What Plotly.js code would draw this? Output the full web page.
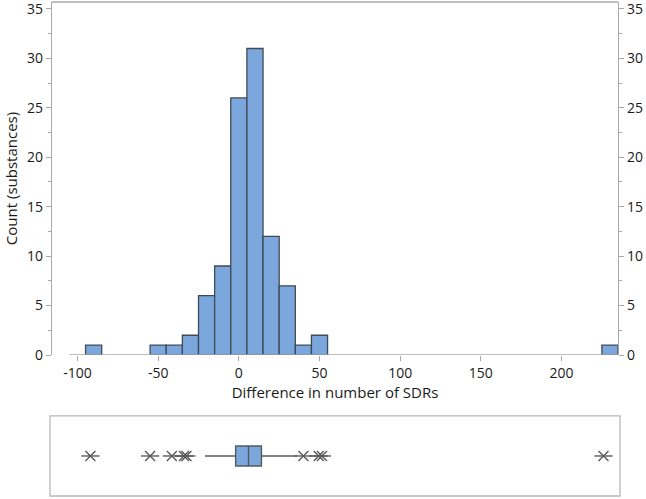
<!DOCTYPE html>
<html>
<head>
<meta charset="utf-8">
<script src="https://cdn.plot.ly/plotly-3.0.1.min.js"></script>
<style>
  html, body { margin: 0; padding: 0; background: #fff; }
  #chart { width: 646px; height: 499px; }
</style>
</head>
<body>
<div id="chart"></div>
<script>
// histogram bins (centre of each 10-wide bin) and counts
const binCenters = [-90, -50, -40, -30, -20, -10, 0, 10, 20, 30, 40, 50, 230];
const binCounts = [1, 1, 1, 2, 6, 9, 26, 31, 12, 7, 1, 2, 1];
const xTickVals = [-100, -50, 0, 50, 100, 150, 200];
const xTickText = ['-100', '-50', '0', '50', '100', '150', '200'];

// box plot summary
const boxQ1 = -2;
const boxMedian = 6;
const boxQ3 = 14;
const boxLow = -21;
const boxHigh = 36;
const outliers = [-92, -55, -41.5, -34, -32.5, 40, 49.5, 51.5, 226];

const barBlue = '#7ba7dc';
const edgeGray = '#3f4a55';
const frameGray = '#a8a8a8';
const starGray = '#5a5a5a';
const xRange = [-115.8, 235];

const bars = {
  type: 'bar',
  x: binCenters,
  y: binCounts,
  width: 10,
  marker: { color: barBlue, line: { color: edgeGray, width: 1.3 } },
  xaxis: 'x',
  yaxis: 'y',
  hoverinfo: 'x+y',
};

// invisible trace so the right-hand y axis gets drawn
const rightAxisDummy = {
  type: 'scatter',
  x: [0],
  y: [0],
  mode: 'markers',
  marker: { opacity: 0 },
  xaxis: 'x',
  yaxis: 'y3',
  hoverinfo: 'skip',
};

const box = {
  type: 'box',
  orientation: 'h',
  y: [0],
  q1: [boxQ1],
  median: [boxMedian],
  q3: [boxQ3],
  lowerfence: [boxLow],
  upperfence: [boxHigh],
  width: 0.5,
  whiskerwidth: 0,
  fillcolor: barBlue,
  line: { color: '#555a60', width: 1.4 },
  xaxis: 'x2',
  yaxis: 'y2',
  hoverinfo: 'skip',
};

// SAS style star: an X plus a horizontal stroke
const starX = {
  type: 'scatter',
  mode: 'markers',
  x: outliers,
  y: outliers.map(() => 0),
  marker: { symbol: 'x-thin-open', size: 10, color: starGray, line: { color: starGray, width: 1.4 } },
  xaxis: 'x2',
  yaxis: 'y2',
  hoverinfo: 'x',
};
const starBar = {
  type: 'scatter',
  mode: 'markers',
  x: outliers,
  y: outliers.map(() => 0),
  marker: { symbol: 'line-ew-open', size: 13, color: starGray, line: { color: starGray, width: 1.4 } },
  xaxis: 'x2',
  yaxis: 'y2',
  hoverinfo: 'skip',
};

const tickFont = { family: 'Open Sans, sans-serif', size: 14, color: '#1a1a1a' };
const titleFont = { family: 'Open Sans, sans-serif', size: 15, color: '#1a1a1a' };
const yMinor = { dtick: 2.5, ticks: 'outside', ticklen: 3, tickcolor: frameGray };

const layout = {
  width: 646,
  height: 499,
  margin: { l: 52, r: 28, t: 2, b: 3 },
  paper_bgcolor: '#fff',
  plot_bgcolor: 'rgba(0,0,0,0)',
  showlegend: false,
  bargap: 0,
  font: { family: 'Open Sans, sans-serif', color: '#1a1a1a' },
  xaxis: {
    domain: [0, 1],
    anchor: 'y',
    range: xRange,
    tickvals: xTickVals,
    ticktext: xTickText,
    ticks: 'outside',
    ticklen: 5,
    tickcolor: frameGray,
    tickfont: tickFont,
    showgrid: false,
    zeroline: false,
    showline: false,
    title: { text: 'Difference in number of SDRs', font: titleFont, standoff: 6 },
  },
  yaxis: {
    domain: [0.2854, 1],
    anchor: 'x',
    range: [0, 35.7],
    dtick: 5,
    ticks: 'outside',
    ticklen: 5,
    tickcolor: frameGray,
    ticklabeloverflow: 'allow',
    minor: yMinor,
    tickfont: tickFont,
    showgrid: false,
    zeroline: false,
    showline: true,
    linecolor: frameGray,
    linewidth: 1.3,
    title: { text: 'Count (substances)', font: titleFont, standoff: 5 },
  },
  yaxis3: {
    overlaying: 'y',
    side: 'right',
    anchor: 'x',
    range: [0, 35.7],
    dtick: 5,
    ticks: 'outside',
    ticklen: 5,
    tickcolor: frameGray,
    ticklabeloverflow: 'allow',
    minor: yMinor,
    tickfont: tickFont,
    showgrid: false,
    zeroline: false,
    showline: true,
    linecolor: frameGray,
    linewidth: 1.3,
  },
  xaxis2: {
    domain: [0, 1],
    anchor: 'y2',
    range: xRange,
    visible: false,
  },
  yaxis2: {
    domain: [0, 0.162],
    anchor: 'x2',
    range: [-1, 1],
    visible: false,
  },
  shapes: [
    // top edge of the histogram frame
    { type: 'line', xref: 'paper', yref: 'y domain', x0: 0, x1: 1, y0: 1, y1: 1,
      line: { color: frameGray, width: 1.3 } },
    // histogram baseline
    { type: 'line', xref: 'x', yref: 'y', x0: -105, x1: 235, y0: 0, y1: 0,
      line: { color: frameGray, width: 1.3 } },
    // box plot panel frame
    { type: 'rect', xref: 'paper', yref: 'y2 domain', x0: -0.0035, x1: 1.0035, y0: 0, y1: 1,
      line: { color: '#b8b8b8', width: 1.3 } },
  ],
};

Plotly.newPlot('chart', [bars, rightAxisDummy, box, starX, starBar], layout, { displayModeBar: false, staticPlot: true });
</script>
</body>
</html>
